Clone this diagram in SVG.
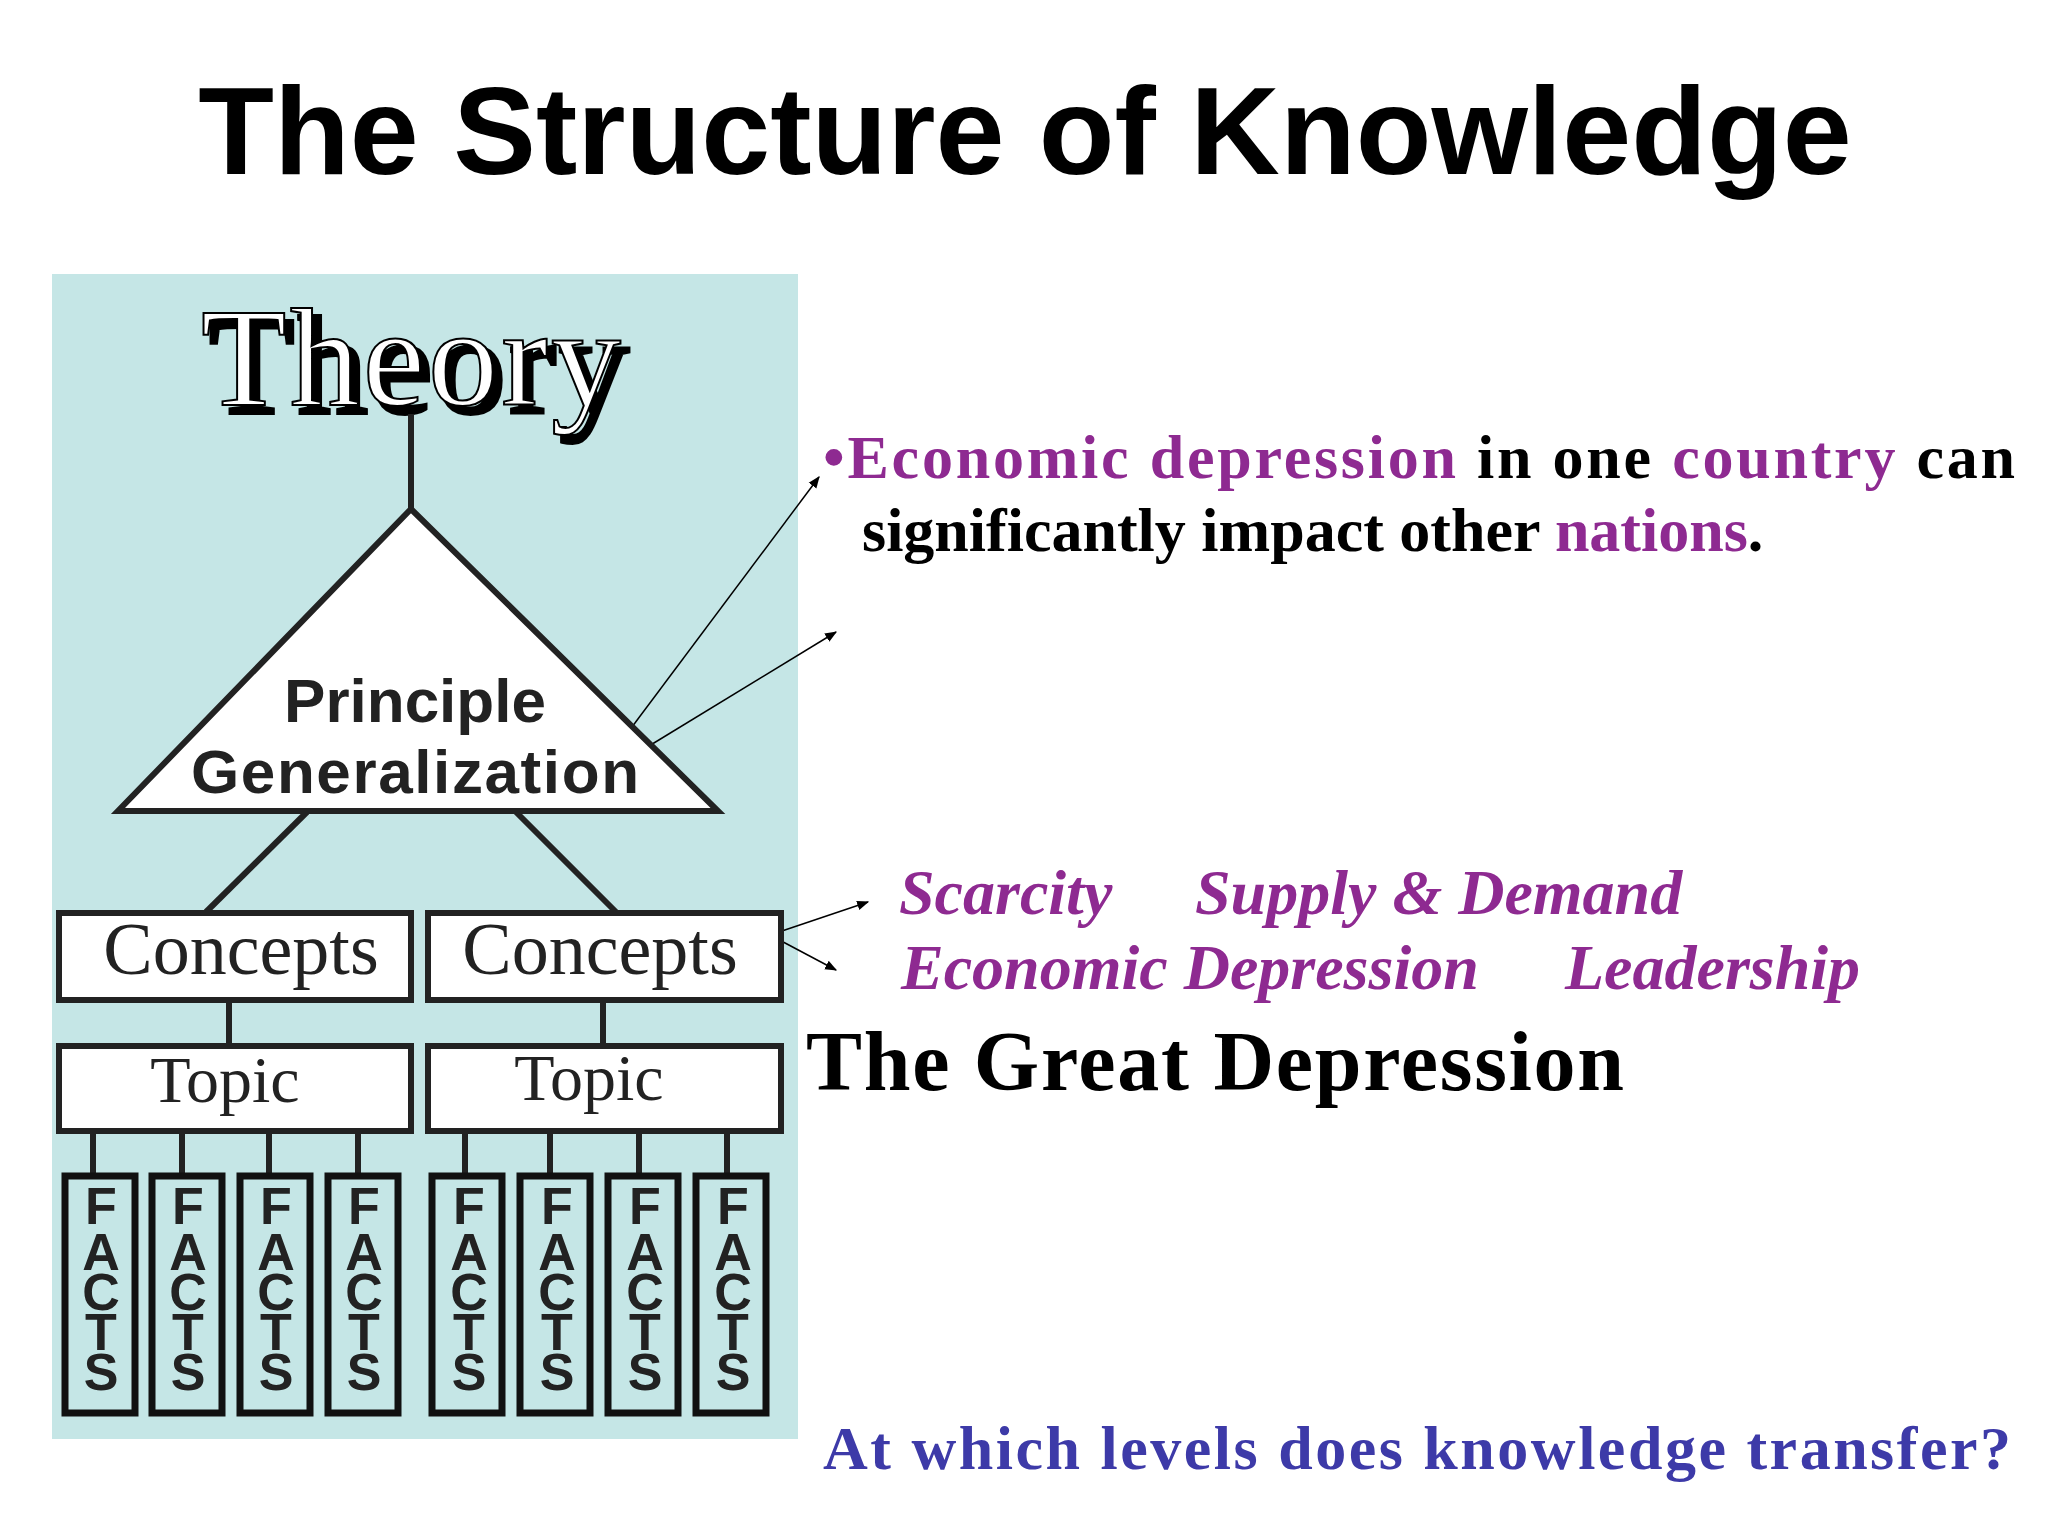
<svg xmlns="http://www.w3.org/2000/svg" width="2048" height="1536" viewBox="0 0 2048 1536">
<defs>
<style>
.box{fill:#fff;stroke:#222;stroke-width:6}
.fbox{fill:none;stroke:#111;stroke-width:7}
.ln{stroke:#222;stroke-width:6;fill:none}
.ser{font-family:"Liberation Serif",serif}
.fl{font-family:"Liberation Sans",Arial,sans-serif;font-weight:bold;font-size:52px;fill:#222;text-anchor:middle}
.pur{fill:#8e2a91}
.arr{stroke:#000;stroke-width:1.5;fill:none;marker-end:url(#ah)}
</style>
<marker id="ah" viewBox="0 0 10 10" refX="9" refY="5" markerWidth="8" markerHeight="8" orient="auto"><path d="M0,1 L10,5 L0,9 z" fill="#000"/></marker>
</defs>
<rect width="2048" height="1536" fill="#fff"/>
<text x="1025" y="174" text-anchor="middle" font-family="Liberation Sans,Arial,sans-serif" font-weight="bold" font-size="124" fill="#000">The Structure of Knowledge</text>
<rect x="52" y="274" width="746" height="1165" fill="#c5e6e6"/>
<g id="theory">
<text x="419" y="413" text-anchor="middle" class="ser" font-size="140" fill="#000" stroke="#000" stroke-width="4" textLength="420">Theory</text>
<text x="411" y="405" text-anchor="middle" class="ser" font-size="140" fill="#fff" stroke="#000" stroke-width="2" textLength="420">Theory</text>
</g>
<g id="connectors">
<line class="ln" x1="411" y1="414" x2="411" y2="509"/>
<line class="ln" x1="307" y1="812" x2="206" y2="912"/>
<line class="ln" x1="516" y1="812" x2="616" y2="912"/>
<line class="ln" x1="229" y1="1000" x2="229" y2="1046"/>
<line class="ln" x1="603" y1="1000" x2="603" y2="1046"/>
<g class="ln">
<line x1="93" y1="1131" x2="93" y2="1174"/><line x1="182" y1="1131" x2="182" y2="1174"/><line x1="269" y1="1131" x2="269" y2="1174"/><line x1="358" y1="1131" x2="358" y2="1174"/>
<line x1="465" y1="1131" x2="465" y2="1174"/><line x1="550" y1="1131" x2="550" y2="1174"/><line x1="639" y1="1131" x2="639" y2="1174"/><line x1="727" y1="1131" x2="727" y2="1174"/>
</g>
<line class="arr" x1="614" y1="751" x2="819" y2="477"/>
<line class="arr" x1="649" y1="746" x2="836" y2="632"/>
<line class="arr" x1="770" y1="935" x2="868" y2="902"/>
<line class="arr" x1="770" y1="935" x2="836" y2="970"/>
</g>
<g id="principle">
<polygon points="411,509 118,811 718,811" class="box"/>
<text x="415" y="722" text-anchor="middle" font-family="Liberation Sans,Arial,sans-serif" font-weight="bold" font-size="62" fill="#222">Principle</text>
<text x="415" y="793" text-anchor="middle" font-family="Liberation Sans,Arial,sans-serif" font-weight="bold" font-size="62" fill="#222" textLength="448">Generalization</text>
</g>
<g id="concepts1"><rect x="59" y="913" width="352" height="87" class="box"/><text x="241" y="974" text-anchor="middle" class="ser" font-size="74" fill="#222">Concepts</text></g>
<g id="concepts2"><rect x="428" y="913" width="353" height="87" class="box"/><text x="600" y="974" text-anchor="middle" class="ser" font-size="74" fill="#222">Concepts</text></g>
<g id="topic1"><rect x="59" y="1046" width="352" height="85" class="box"/><text x="225" y="1102" text-anchor="middle" class="ser" font-size="66" fill="#222">Topic</text></g>
<g id="topic2"><rect x="428" y="1046" width="353" height="85" class="box"/><text x="589" y="1100" text-anchor="middle" class="ser" font-size="66" fill="#222">Topic</text></g>
<g id="facts">
<g><rect x="65" y="1176" width="70" height="237" class="fbox"/><g class="fl"><text x="101" y="1224">F</text><text x="101" y="1270">A</text><text x="101" y="1350">T</text><text x="101" y="1310">C</text><text x="101" y="1390">S</text></g></g>
<g><rect x="152" y="1176" width="70" height="237" class="fbox"/><g class="fl"><text x="188" y="1224">F</text><text x="188" y="1270">A</text><text x="188" y="1350">T</text><text x="188" y="1310">C</text><text x="188" y="1390">S</text></g></g>
<g><rect x="240" y="1176" width="70" height="237" class="fbox"/><g class="fl"><text x="276" y="1224">F</text><text x="276" y="1270">A</text><text x="276" y="1350">T</text><text x="276" y="1310">C</text><text x="276" y="1390">S</text></g></g>
<g><rect x="328" y="1176" width="70" height="237" class="fbox"/><g class="fl"><text x="364" y="1224">F</text><text x="364" y="1270">A</text><text x="364" y="1350">T</text><text x="364" y="1310">C</text><text x="364" y="1390">S</text></g></g>
<g><rect x="432" y="1176" width="70" height="237" class="fbox"/><g class="fl"><text x="469" y="1224">F</text><text x="469" y="1270">A</text><text x="469" y="1350">T</text><text x="469" y="1310">C</text><text x="469" y="1390">S</text></g></g>
<g><rect x="520" y="1176" width="70" height="237" class="fbox"/><g class="fl"><text x="557" y="1224">F</text><text x="557" y="1270">A</text><text x="557" y="1350">T</text><text x="557" y="1310">C</text><text x="557" y="1390">S</text></g></g>
<g><rect x="608" y="1176" width="70" height="237" class="fbox"/><g class="fl"><text x="645" y="1224">F</text><text x="645" y="1270">A</text><text x="645" y="1350">T</text><text x="645" y="1310">C</text><text x="645" y="1390">S</text></g></g>
<g><rect x="696" y="1176" width="70" height="237" class="fbox"/><g class="fl"><text x="733" y="1224">F</text><text x="733" y="1270">A</text><text x="733" y="1350">T</text><text x="733" y="1310">C</text><text x="733" y="1390">S</text></g></g>
</g>
<g id="principle-text" class="ser" font-weight="bold" font-size="62" fill="#000">
<text x="823" y="478" textLength="1192"><tspan class="pur">•Economic depression</tspan> in one <tspan class="pur">country</tspan> can</text>
<text x="862" y="551">significantly impact other <tspan class="pur">nations</tspan>.</text>
</g>
<g id="concepts-text" class="ser pur" font-weight="bold" font-style="italic" font-size="64">
<text x="899" y="914">Scarcity</text><text x="1195" y="914">Supply &amp; Demand</text>
<text x="901" y="989">Economic Depression</text><text x="1565" y="989">Leadership</text>
</g>
<text id="topic-text" x="806" y="1090" class="ser" font-weight="bold" font-size="84" fill="#000" textLength="818">The Great Depression</text>
<text id="question" x="823" y="1469" class="ser" font-weight="bold" font-size="62" fill="#3d3aa8" textLength="1188">At which levels does knowledge transfer?</text>
</svg>
